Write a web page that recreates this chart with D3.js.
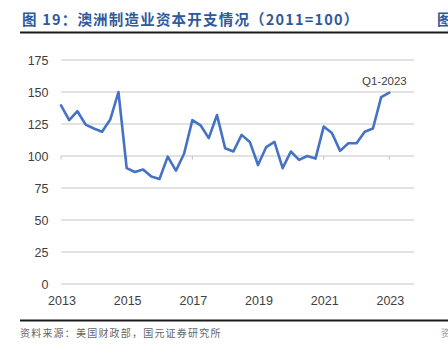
<!DOCTYPE html>
<html><head><meta charset="utf-8">
<script src="https://cdn.jsdelivr.net/npm/d3@7"></script>
<style>
html,body{margin:0;padding:0;background:#fff;}
svg{display:block;}
</style></head>
<body>
<svg id="c" width="448" height="356"></svg>
<script>
const title = "图 19：澳洲制造业资本开支情况（2011=100）";
const source = "资料来源：美国财政部，国元证券研究所";
const quarters = [
 "2013Q1","2013Q2","2013Q3","2013Q4","2014Q1","2014Q2","2014Q3","2014Q4",
 "2015Q1","2015Q2","2015Q3","2015Q4","2016Q1","2016Q2","2016Q3","2016Q4",
 "2017Q1","2017Q2","2017Q3","2017Q4","2018Q1","2018Q2","2018Q3","2018Q4",
 "2019Q1","2019Q2","2019Q3","2019Q4","2020Q1","2020Q2","2020Q3","2020Q4",
 "2021Q1","2021Q2","2021Q3","2021Q4","2022Q1","2022Q2","2022Q3","2022Q4",
 "2023Q1","2023Q2","2023Q3","2023Q4"];
const values = [
 139.5,128,135,124.5,121.5,119,128.5,150,
 90.5,87.5,89.5,84,82,99.5,88.5,102,
 128,124,114,132,106,103.5,116.5,111,
 93,107,111,90.5,103.5,97,100,98,
 123,118,104,110,110,119,121.5,146,
 149.5];
const yTicks = [0,25,50,75,100,125,150,175];
const xTickLabels = ["2013","2015","2017","2019","2021","2023"];
const lastLabel = "Q1-2023";

const svg = d3.select("#c");
const x = d3.scaleLinear().domain([0, quarters.length - 1]).range([61, 414]);
const y = d3.scaleLinear().domain([0, 175]).range([284, 60]);

// title
svg.append("text").attr("x",22).attr("y",25)
  .attr("font-family","'Noto Sans CJK SC', sans-serif").attr("font-size",14.5)
  .attr("font-weight","bold").attr("fill","#2e5a9c").attr("letter-spacing",1.2)
  .text(title);
svg.append("text").attr("x",437).attr("y",25)
  .attr("font-family","'Noto Sans CJK SC', sans-serif").attr("font-size",14.5)
  .attr("font-weight","bold").attr("fill","#2e5a9c").text("图");
svg.append("line").attr("x1",20).attr("x2",448).attr("y1",32.5).attr("y2",32.5)
  .attr("stroke","#1a1a1a").attr("stroke-width",2);

// gridlines
svg.append("g").selectAll("line").data(yTicks).join("line")
  .attr("x1",x(0)).attr("x2",x(quarters.length-1))
  .attr("y1",d=>y(d)).attr("y2",d=>y(d))
  .attr("stroke","#d9d9d9").attr("stroke-width",1.3);

// y labels
svg.append("g").selectAll("text").data(yTicks).join("text")
  .attr("x",48.5).attr("y",d=>y(d)).attr("dy","0.36em")
  .attr("text-anchor","end").attr("font-family","'Liberation Sans', Arial, sans-serif")
  .attr("font-size",12.5).attr("fill","#404040").text(d=>d);

// x axis tick marks at 100 crossing
const tickIdx = xTickLabels.map(l => quarters.indexOf(l + "Q1"));
svg.append("g").selectAll("line").data(tickIdx).join("line")
  .attr("x1",d=>x(d)).attr("x2",d=>x(d))
  .attr("y1",y(100)).attr("y2",y(100)+3.5)
  .attr("stroke","#bfbfbf").attr("stroke-width",1);

svg.append("g").selectAll("text").data(xTickLabels).join("text")
  .attr("x",(d,i)=>x(tickIdx[i])+1).attr("y",305)
  .attr("text-anchor","middle").attr("font-family","'Liberation Sans', Arial, sans-serif")
  .attr("font-size",12.5).attr("fill","#404040").text(d=>d);

// line
const line = d3.line().x((d,i)=>x(i)).y(d=>y(d));
svg.append("path").datum(values).attr("d",line)
  .attr("fill","none").attr("stroke","#4472c4").attr("stroke-width",2.6)
  .attr("stroke-linejoin","round").attr("stroke-linecap","round");

// last point label
svg.append("text").attr("x",x(values.length-1)-5).attr("y",y(values[values.length-1])-8)
  .attr("text-anchor","middle").attr("font-family","'Liberation Sans', Arial, sans-serif")
  .attr("font-size",11.5).attr("fill","#404040").text(lastLabel);

// bottom rule and source
svg.append("line").attr("x1",20).attr("x2",448).attr("y1",320.5).attr("y2",320.5)
  .attr("stroke","#1a1a1a").attr("stroke-width",2);
svg.append("text").attr("x",20).attr("y",337)
  .attr("font-family","'Noto Sans CJK SC', sans-serif").attr("font-size",10)
  .attr("fill","#666").attr("letter-spacing",1.2).text(source);
svg.append("text").attr("x",441).attr("y",337)
  .attr("font-family","'Noto Sans CJK SC', sans-serif").attr("font-size",10)
  .attr("fill","#999").text("资");
</script>
</body></html>
